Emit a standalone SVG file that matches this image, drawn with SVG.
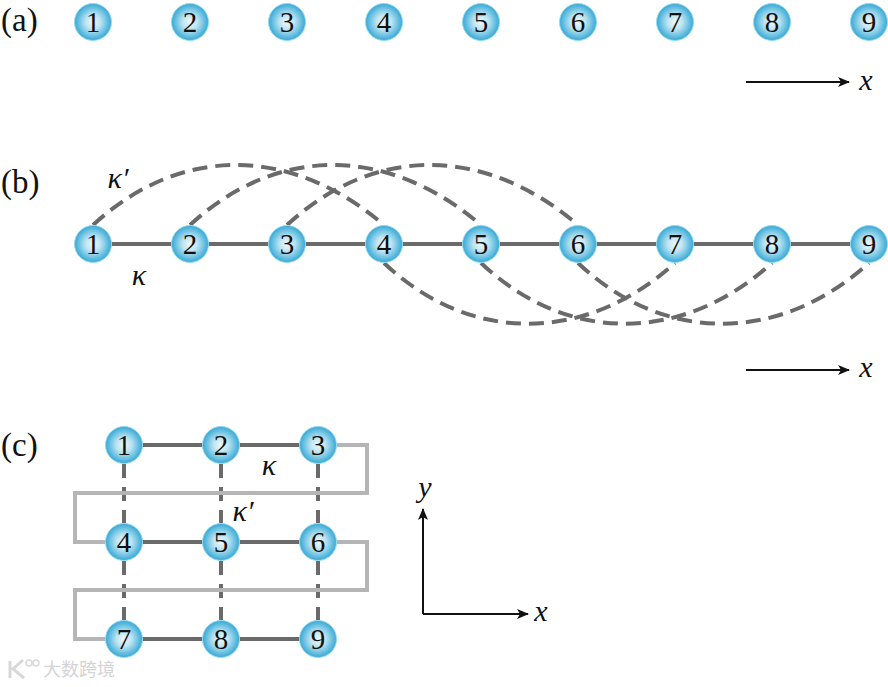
<svg xmlns="http://www.w3.org/2000/svg" xmlns:xlink="http://www.w3.org/1999/xlink" width="888" height="687" viewBox="0 0 888 687">
<style>
text{font-family:"Liberation Serif","Times New Roman",serif;fill:#111}
.lab{font-size:33px}
.n{font-size:29px;text-anchor:middle}
.it{font-size:30px;font-style:italic;text-anchor:middle}
.ball{fill:url(#g);stroke:#8fdcf2;stroke-width:1}
.k{fill:none;stroke:#6a6a6a;stroke-width:4}
.d{fill:none;stroke:#6a6a6a;stroke-width:4;stroke-dasharray:15 8}
.v{fill:none;stroke:#6a6a6a;stroke-width:4;stroke-dasharray:14 9}
.s{fill:none;stroke:#b5b5b5;stroke-width:4}
.a{fill:none;stroke:#111;stroke-width:2;marker-end:url(#ar)}
</style>
<defs>
<radialGradient id="g" cx="0.5" cy="0.5" r="0.5">
<stop offset="0" stop-color="#eef8fb"/><stop offset="0.4" stop-color="#bfe4f1"/><stop offset="0.75" stop-color="#6cc2e2"/><stop offset="1" stop-color="#3aa6d4"/>
</radialGradient>
<marker id="ar" viewBox="0 0 12 10" refX="11" refY="5" markerWidth="12" markerHeight="10" markerUnits="userSpaceOnUse" orient="auto"><path d="M0 0L12 5L0 10L3 5Z" fill="#111"/></marker>
<circle id="b" r="18.5" class="ball"/>
</defs>
<rect width="888" height="687" fill="#fff"/>
<g id="connectors">
<path class="k" d="M93 244H869"/>
<path class="d" d="M93 225C180 145 290 145 384 225"/>
<path class="d" d="M190 225C277 145 387 145 481 225"/>
<path class="d" d="M287 225C374 145 484 145 578 225"/>
<path class="d" d="M384 263C470 344 585 344 675 263"/>
<path class="d" d="M481 263C567 344 682 344 772 263"/>
<path class="d" d="M578 263C664 344 779 344 869 263"/>
<path class="k" d="M124 445H318M124 542H318M124 639H318"/>
<path class="v" d="M124 464V523M221 464V523M318 464V523M124 561V620M221 561V620M318 561V620"/>
<path class="s" d="M337 445H367V493H75V542H105M337 542H367V590H75V639H105"/>
<path class="a" d="M746 82H849"/>
<path class="a" d="M746 370H849"/>
<path class="a" d="M423 614H528"/>
<path class="a" d="M423 614V509"/>
</g>
<g id="labels">
<text class="lab" x="1" y="31">(a)</text>
<text class="lab" x="1" y="193">(b)</text>
<text class="lab" x="1" y="456">(c)</text>
<text class="it" x="866" y="90">x</text>
<text class="it" x="866" y="377">x</text>
<text class="it" x="541" y="621">x</text>
<text class="it" x="425" y="497">y</text>
<text class="it" x="118" y="188">κ′</text>
<text class="it" x="139" y="285">κ</text>
<text class="it" x="269" y="475">κ</text>
<text class="it" x="243" y="521">κ′</text>
</g>
<g id="watermark">
<path d="M10 661V678M23 660L13 669L24 678" fill="none" stroke="#d8d8d8" stroke-width="3"/>
<circle cx="29" cy="663" r="3" fill="none" stroke="#d8d8d8" stroke-width="1.5"/>
<circle cx="36" cy="663" r="3" fill="none" stroke="#d8d8d8" stroke-width="1.5"/>
<text x="43" y="676" style="font-family:'Noto Sans CJK SC',sans-serif;font-size:18px;fill:#d4d4d4">大数跨境</text>
</g>
<g id="a1"><use xlink:href="#b" x="93" y="22"/><text class="n" x="93" y="32">1</text></g>
<g id="a2"><use xlink:href="#b" x="190" y="22"/><text class="n" x="190" y="32">2</text></g>
<g id="a3"><use xlink:href="#b" x="287" y="22"/><text class="n" x="287" y="32">3</text></g>
<g id="a4"><use xlink:href="#b" x="384" y="22"/><text class="n" x="384" y="32">4</text></g>
<g id="a5"><use xlink:href="#b" x="481" y="22"/><text class="n" x="481" y="32">5</text></g>
<g id="a6"><use xlink:href="#b" x="578" y="22"/><text class="n" x="578" y="32">6</text></g>
<g id="a7"><use xlink:href="#b" x="675" y="22"/><text class="n" x="675" y="32">7</text></g>
<g id="a8"><use xlink:href="#b" x="772" y="22"/><text class="n" x="772" y="32">8</text></g>
<g id="a9"><use xlink:href="#b" x="869" y="22"/><text class="n" x="869" y="32">9</text></g>
<g id="b1"><use xlink:href="#b" x="93" y="244"/><text class="n" x="93" y="254">1</text></g>
<g id="b2"><use xlink:href="#b" x="190" y="244"/><text class="n" x="190" y="254">2</text></g>
<g id="b3"><use xlink:href="#b" x="287" y="244"/><text class="n" x="287" y="254">3</text></g>
<g id="b4"><use xlink:href="#b" x="384" y="244"/><text class="n" x="384" y="254">4</text></g>
<g id="b5"><use xlink:href="#b" x="481" y="244"/><text class="n" x="481" y="254">5</text></g>
<g id="b6"><use xlink:href="#b" x="578" y="244"/><text class="n" x="578" y="254">6</text></g>
<g id="b7"><use xlink:href="#b" x="675" y="244"/><text class="n" x="675" y="254">7</text></g>
<g id="b8"><use xlink:href="#b" x="772" y="244"/><text class="n" x="772" y="254">8</text></g>
<g id="b9"><use xlink:href="#b" x="869" y="244"/><text class="n" x="869" y="254">9</text></g>
<g id="c1"><use xlink:href="#b" x="124" y="445"/><text class="n" x="124" y="455">1</text></g>
<g id="c2"><use xlink:href="#b" x="221" y="445"/><text class="n" x="221" y="455">2</text></g>
<g id="c3"><use xlink:href="#b" x="318" y="445"/><text class="n" x="318" y="455">3</text></g>
<g id="c4"><use xlink:href="#b" x="124" y="542"/><text class="n" x="124" y="552">4</text></g>
<g id="c5"><use xlink:href="#b" x="221" y="542"/><text class="n" x="221" y="552">5</text></g>
<g id="c6"><use xlink:href="#b" x="318" y="542"/><text class="n" x="318" y="552">6</text></g>
<g id="c7"><use xlink:href="#b" x="124" y="639"/><text class="n" x="124" y="649">7</text></g>
<g id="c8"><use xlink:href="#b" x="221" y="639"/><text class="n" x="221" y="649">8</text></g>
<g id="c9"><use xlink:href="#b" x="318" y="639"/><text class="n" x="318" y="649">9</text></g>
</svg>
